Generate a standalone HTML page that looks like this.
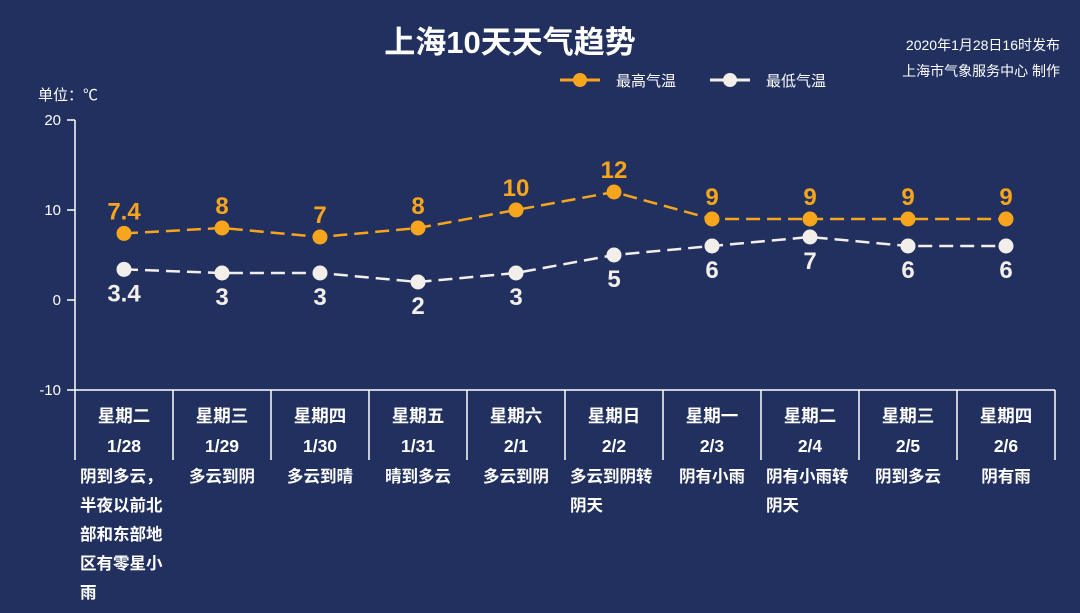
<!DOCTYPE html>
<html><head><meta charset="utf-8"><style>
body{margin:0;width:1080px;height:613px;background:#21305f;overflow:hidden;font-family:"Liberation Sans","Noto Sans CJK SC",sans-serif;color:#fff}
svg{position:absolute;left:0;top:0}
.desc{position:absolute;top:463px;width:98px;text-align:center}
.desc span{display:inline-block;max-width:88px;text-align:left;font-size:16.5px;font-weight:bold;line-height:29px}
</style></head><body>
<svg width="1080" height="613" id="c"></svg>
<div id="descs"></div>
<script>
const days=["星期二","星期三","星期四","星期五","星期六","星期日","星期一","星期二","星期三","星期四"];
const dates=["1/28","1/29","1/30","1/31","2/1","2/2","2/3","2/4","2/5","2/6"];
const highs=[7.4,8,7,8,10,12,9,9,9,9];
const lows=[3.4,3,3,2,3,5,6,7,6,6];
const descs=["阴到多云，半夜以前北部和东部地区有零星小雨","多云到阴","多云到晴","晴到多云","多云到阴","多云到阴转阴天","阴有小雨","阴有小雨转阴天","阴到多云","阴有雨"];
const yTicks=[20,10,0,-10];
const X0=75,CW=98,y=v=>300-v*9,x=i=>X0+CW*i+CW/2;
const s=document.getElementById('c');const NS="http://www.w3.org/2000/svg";
function el(t,a,txt){const e=document.createElementNS(NS,t);for(const k in a)e.setAttribute(k,a[k]);if(txt!=null)e.textContent=txt;s.appendChild(e);return e;}
let e;
e=el('text',{x:510,y:53,'text-anchor':'middle','font-size':31,'font-weight':'bold',fill:'#fff'},'上海10天天气趋势');

e=el('text',{x:1060,y:50,'text-anchor':'end','font-size':14,fill:'#fff'},'2020年1月28日16时发布');

e=el('text',{x:1060,y:76,'text-anchor':'end','font-size':14,fill:'#fff'},'上海市气象服务中心 制作');

e=el('text',{x:38,y:100,'font-size':15,fill:'#fff'},'单位：℃');

const leg=[["最高气温","#f7a51c",560],["最低气温","#f2eeea",710]];
leg.forEach(l=>{
 e=el('line',{x1:l[2],y1:80,x2:l[2]+40,y2:80,stroke:l[1],'stroke-width':3});
 
 e=el('circle',{cx:l[2]+20,cy:80,r:7,fill:l[1]});
 
 e=el('text',{x:l[2]+56,y:86,'font-size':15,fill:'#fff'},l[0]);
 
});
e=el('line',{x1:X0,y1:y(20),x2:X0,y2:460,stroke:'#fff','stroke-width':1.5});

yTicks.forEach(t=>{
 e=el('line',{x1:X0-8,y1:y(t),x2:X0,y2:y(t),stroke:'#fff','stroke-width':1.5});
 
 e=el('text',{x:X0-14,y:y(t)+5,'text-anchor':'end','font-size':15,fill:'#fff'},t);
 
});
e=el('line',{x1:X0,y1:y(-10),x2:X0+CW*10,y2:y(-10),stroke:'#fff','stroke-width':1.5});

const dd=document.getElementById('descs');
days.forEach((d,i)=>{
 e=el('line',{x1:X0+CW*(i+1),y1:y(-10),x2:X0+CW*(i+1),y2:460,stroke:'#fff','stroke-width':1.5});
 
 e=el('text',{x:x(i),y:422,'text-anchor':'middle','font-size':17.5,'font-weight':'bold',fill:'#fff'},d);
 
 e=el('text',{x:x(i),y:452,'text-anchor':'middle','font-size':17.5,'font-weight':'bold',fill:'#fff'},dates[i]);
 
 const div=document.createElement('div');div.className='desc';div.style.left=(X0+CW*i)+'px';
 
 
 const sp=document.createElement('span');sp.textContent=descs[i];div.appendChild(sp);dd.appendChild(div);
});
function series(vals,col,name,above){
 e=el('polyline',{points:vals.map((v,i)=>x(i)+','+y(v)).join(' '),fill:'none',stroke:col,'stroke-width':2.5,'stroke-dasharray':'14 7'});
 
 vals.forEach((v,i)=>{
  e=el('circle',{cx:x(i),cy:y(v),r:7.5,fill:col});
  
  e=el('text',{x:x(i),y:above?y(v)-14:y(v)+32,'text-anchor':'middle','font-size':24,'font-weight':'bold',fill:col},v);
  
 });
}
series(highs,'#f7a51c','high-temp',true);
series(lows,'#f2eeea','low-temp',false);
</script>
</body></html>
